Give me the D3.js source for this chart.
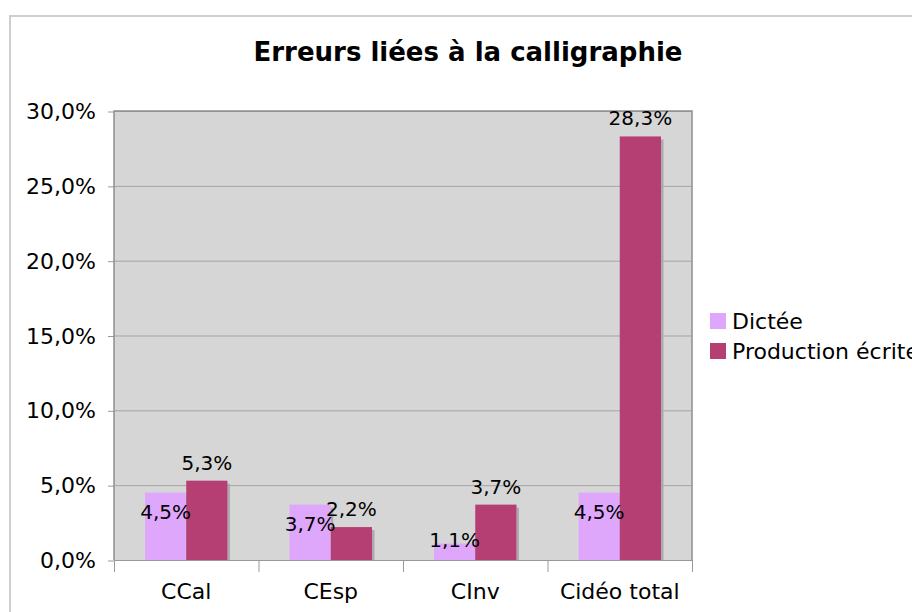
<!DOCTYPE html>
<html><head><meta charset="utf-8">
<script src="https://cdn.jsdelivr.net/npm/d3@7"></script>
<style>body{margin:0;background:#fff;}svg{display:block;}</style>
</head><body>
<script>
const categories = ["CCal", "CEsp", "CInv", "Cidéo total"];
const seriesNames = ["Dictée", "Production écrite"];
const dictee = [4.5, 3.7, 1.1, 4.5];
const production = [5.3, 2.2, 3.7, 28.3];
const yTicks = [0, 5, 10, 15, 20, 25, 30];
const colors = ["#dea7fc", "#b53f73"];

(function () {
const W = 912, H = 612;
const svg = d3.select("body").append("svg").attr("width", W).attr("height", H)
  .style("font-family", "'DejaVu Sans', Verdana, sans-serif");

svg.append("path").attr("d", "M10,612 V16 H912").attr("fill", "none")
  .attr("stroke", "#cfcfcf").attr("stroke-width", 2);

const pL = 114, pR = 692, pT = 111, pB = 560;
const x = d3.scaleBand().domain(categories).range([pL, pR]);
const y = d3.scaleLinear().domain([0, 30]).range([pB, pT]);
const fmt = v => d3.format(".1f")(v).replace(".", ",") + "%";

svg.append("rect").attr("x", pL).attr("y", pT).attr("width", pR - pL).attr("height", pB - pT)
  .attr("fill", "#d6d6d6");

svg.append("g").selectAll("line").data(yTicks.slice(1)).join("line")
  .attr("x1", pL).attr("x2", pR).attr("y1", d => y(d) + 0.5).attr("y2", d => y(d) + 0.5)
  .attr("stroke", "#a3a3a3").attr("stroke-width", 1);

const yAxis = d3.axisLeft(y).tickValues(yTicks).tickSize(6).tickPadding(12).tickFormat(v => fmt(v));
const ya = svg.append("g").attr("transform", `translate(${pL},0.5)`).call(yAxis);
ya.select(".domain").remove();
ya.selectAll("line").attr("stroke", "#999");
ya.selectAll("text").attr("font-size", 22).attr("fill", "#000").attr("font-family", "'DejaVu Sans', sans-serif");

const bounds = categories.map(c => x(c)).concat([pR]);
svg.append("g").selectAll("line").data(bounds).join("line")
  .attr("x1", d => d + 0.5).attr("x2", d => d + 0.5).attr("y1", pB).attr("y2", pB + 12)
  .attr("stroke", "#999");
svg.append("g").selectAll("text").data(categories).join("text")
  .attr("x", d => x(d) + x.bandwidth() / 2).attr("y", 599)
  .attr("text-anchor", "middle").attr("font-size", 22).attr("fill", "#000").text(d => d);

const inner = d3.scaleBand().domain([0, 1]).range([31, x.bandwidth() - 31]);
const series = [dictee, production];
series.forEach((vals, si) => {
  const g = svg.append("g");
  g.selectAll("rect.sh").data(vals).join("rect").attr("class", "sh")
    .attr("x", (d, i) => x(categories[i]) + inner(si) + inner.bandwidth())
    .attr("y", d => y(d) + 3).attr("width", 2.5).attr("height", d => pB - y(d) - 3)
    .attr("fill", "#ababab");
  g.selectAll("rect.bar").data(vals).join("rect").attr("class", "bar")
    .attr("x", (d, i) => x(categories[i]) + inner(si))
    .attr("y", d => y(d)).attr("width", inner.bandwidth()).attr("height", d => pB - y(d))
    .attr("fill", colors[si]);
});

svg.append("path").attr("d", `M${pL},${pB} V${pT} H${pR} V${pB}`)
  .attr("fill", "none").attr("stroke", "#8f8f8f").attr("stroke-width", 1.5);
svg.append("line").attr("x1", pL).attr("x2", pR).attr("y1", pB + 0.5).attr("y2", pB + 0.5)
  .attr("stroke", "#999");

series.forEach((vals, si) => {
  svg.append("g").selectAll("text").data(vals).join("text")
    .attr("x", (d, i) => x(categories[i]) + inner(si) + inner.bandwidth() / 2)
    .attr("y", d => si === 0 ? Math.min(y(d) + 26, pB - 13) : y(d) - 11)
    .attr("text-anchor", "middle").attr("font-size", 20).attr("fill", "#000")
    .text(d => fmt(d));
});

svg.append("text").attr("x", 468).attr("y", 61).attr("text-anchor", "middle")
  .attr("font-size", 26).attr("font-weight", "bold").attr("fill", "#000")
  .text("Erreurs liées à la calligraphie");

const lg = svg.append("g");
seriesNames.forEach((n, i) => {
  lg.append("rect").attr("x", 710).attr("y", 313 + i * 30).attr("width", 16).attr("height", 16)
    .attr("fill", colors[i]);
  lg.append("text").attr("x", 732).attr("y", 329 + i * 30).attr("font-size", 22).attr("fill", "#000").text(n);
});
})();
</script>
</body></html>
